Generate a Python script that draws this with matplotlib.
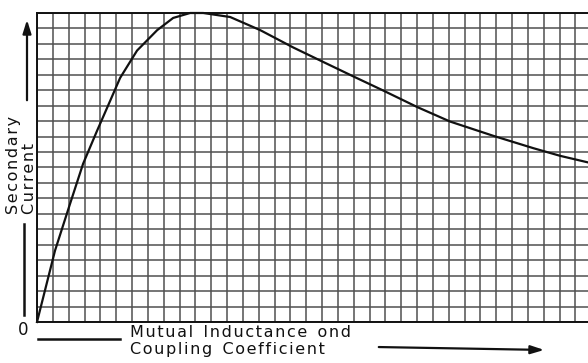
import matplotlib
matplotlib.use("Agg")
import matplotlib.pyplot as plt
import numpy as np

# Resonance curve of the secondary: current vs mutual inductance (grid units)
mutual = [0.0, 1.14, 2.09, 2.91, 3.79, 4.43, 5.25, 6.32, 7.59, 8.60, 9.67,
          10.5, 12.2, 14.1, 16.18, 18.08, 19.97, 21.87, 24.02, 26.1, 28.82,
          31.35, 33.06, 34.8]
current = [0.0, 4.63, 7.66, 10.24, 12.37, 13.87, 15.8, 17.57, 18.89, 19.68,
           20.0, 20.0, 19.74, 18.89, 17.77, 16.83, 15.9, 14.98, 13.91, 12.97,
           12.05, 11.25, 10.75, 10.33]

x_cells = 34.8
y_cells = 20

ink = '#111111'
grid_ink = '#505050'


def spaced(s):
    # open up the lettering with hair spaces between characters
    return '\u200a'.join(s)


fig = plt.figure(figsize=(5.88, 3.63), dpi=100)
ax = fig.add_axes([37 / 588, 41 / 363, 1 - 37 / 588, 309 / 363])

ax.set_xlim(0, x_cells)
ax.set_ylim(0, y_cells)
ax.set_xticks(np.arange(0, 35))
ax.set_yticks(np.arange(0, 21))
ax.grid(True, color=grid_ink, linewidth=1.1)
ax.tick_params(length=0, labelbottom=False, labelleft=False)
for side in ('left', 'top', 'bottom'):
    ax.spines[side].set_color(ink)
    ax.spines[side].set_linewidth(1.4)
ax.spines['right'].set_visible(False)

ax.plot(mutual, current, color=ink, linewidth=1.6, clip_on=False, zorder=5,
        solid_joinstyle='round')


# Axis captions and arrows drawn in figure coordinates
def fx(px):
    return px / 588.0


def fy(py):
    return 1 - py / 363.0


fig.text(fx(6), fy(214), spaced("Secondary") + "\n" + spaced("Current"),
         rotation=90, ha='left', va='bottom', fontsize=11.5, color=ink,
         linespacing=1.05, multialignment='left')
fig.text(fx(130), fy(341),
         spaced("Mutual") + "  " + spaced("Inductance") + "  " + spaced("ond")
         + "\n" + spaced("Coupling") + "  " + spaced("Coefficient"),
         ha='left', va='center', fontsize=11.5, color=ink, linespacing=1.15)
fig.text(fx(23), fy(330), "0", ha='center', va='center', fontsize=12,
         color=ink)

fig.add_artist(plt.Line2D([fx(24), fx(24)], [fy(224), fy(315)], color=ink,
                          linewidth=1.8))
fig.add_artist(plt.Line2D([fx(38), fx(120)], [fy(339), fy(339)], color=ink,
                          linewidth=1.8))
ax.annotate('', xy=(fx(27), fy(17)), xytext=(fx(27), fy(103)),
            xycoords='figure fraction', textcoords='figure fraction',
            arrowprops=dict(arrowstyle='-|>,head_length=0.8,head_width=0.25',
                            color=ink, linewidth=1.6))
ax.annotate('', xy=(fx(547), fy(350)), xytext=(fx(376), fy(347)),
            xycoords='figure fraction', textcoords='figure fraction',
            arrowprops=dict(arrowstyle='-|>,head_length=0.8,head_width=0.25',
                            color=ink, linewidth=1.6))

fig.savefig('out.png', dpi=100)
